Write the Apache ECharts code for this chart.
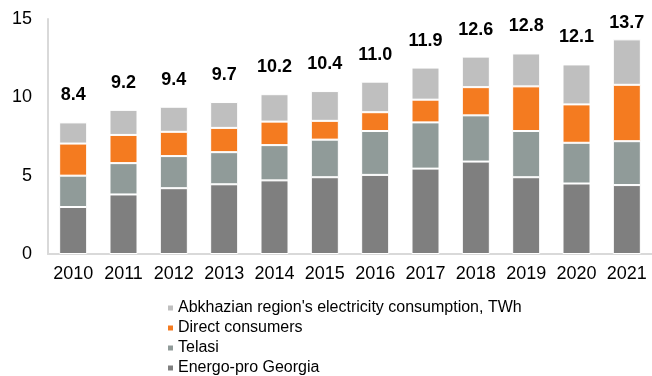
<!DOCTYPE html>
<html>
<head>
<meta charset="utf-8">
<script src="https://cdn.jsdelivr.net/npm/echarts@6/dist/echarts.min.js"></script>
<style>html,body{margin:0;padding:0;background:#fff;}#c{width:652px;height:376px;}</style>
</head>
<body>
<div id="c"></div>
<script>
var years = ['2010','2011','2012','2013','2014','2015','2016','2017','2018','2019','2020','2021'];
var energoPro = [3.0, 3.8, 4.2, 4.45, 4.7, 4.9, 5.05, 5.45, 5.9, 4.9, 4.5, 4.4];
var telasi    = [2.0, 2.0, 2.05, 2.05, 2.25, 2.4, 2.8, 2.95, 2.95, 2.95, 2.6, 2.8];
var direct    = [2.05, 1.8, 1.55, 1.55, 1.5, 1.2, 1.2, 1.45, 1.8, 2.85, 2.45, 3.6];
var abkhazia  = [1.35, 1.6, 1.6, 1.65, 1.75, 1.9, 1.95, 2.05, 1.95, 2.1, 2.55, 2.9];
var totals    = ['8.4','9.2','9.4','9.7','10.2','10.4','11.0','11.9','12.6','12.8','12.1','13.7'];
var yTicks = [0, 5, 10, 15];

var FONT = '"Liberation Sans", Arial, sans-serif';
var chart = echarts.init(document.getElementById('c'), null, {renderer: 'canvas'});
function bar(name, data, color) {
  return {
    name: name, type: 'bar', stack: 'total', data: data,
    barWidth: 28,
    itemStyle: {color: color, borderColor: '#ffffff', borderWidth: 1},
    emphasis: {disabled: true}
  };
}
var sAbk = bar("Abkhazian region's electricity consumption, TWh", abkhazia, '#BFBFBF');
sAbk.label = {
  show: true, position: 'top', distance: 18,
  formatter: function (p) { return totals[p.dataIndex]; },
  fontFamily: FONT, fontSize: 18, fontWeight: 'bold', color: '#000'
};
sAbk.labelLayout = function (params) {
  var minTop = 14;
  var r = params.labelRect;
  if (r && r.y < minTop) { return {dy: minTop - r.y}; }
  return {};
};
chart.setOption({
  animation: false,
  textStyle: {fontFamily: FONT},
  grid: {left: 48, width: 610, top: 19, bottom: 122, containLabel: false},
  legend: {
    orient: 'vertical', left: 161, top: 295, height: 120,
    icon: 'rect', itemWidth: 7, itemHeight: 7, itemGap: 4,
    textStyle: {fontFamily: FONT, fontSize: 16, color: '#000', padding: [0,0,0,-1]},
    data: ["Abkhazian region's electricity consumption, TWh", 'Direct consumers', 'Telasi', 'Energo-pro Georgia']
  },
  xAxis: {
    type: 'category', data: years,
    axisLine: {show: true, lineStyle: {color: '#D9D9D9', width: 2}},
    axisTick: {show: false},
    axisLabel: {interval: 0, margin: 11, fontFamily: FONT, fontSize: 18, color: '#000'}
  },
  yAxis: {
    type: 'value', min: yTicks[0], max: yTicks[yTicks.length - 1], interval: 5,
    axisLine: {show: true, lineStyle: {color: '#D9D9D9', width: 2}},
    axisTick: {show: false},
    splitLine: {show: false},
    axisLabel: {margin: 16, fontFamily: FONT, fontSize: 18, color: '#000'}
  },
  series: [
    bar('Energo-pro Georgia', energoPro, '#7F7F7F'),
    bar('Telasi', telasi, '#909B99'),
    bar('Direct consumers', direct, '#F47B20'),
    sAbk
  ]
});
</script>
</body>
</html>
